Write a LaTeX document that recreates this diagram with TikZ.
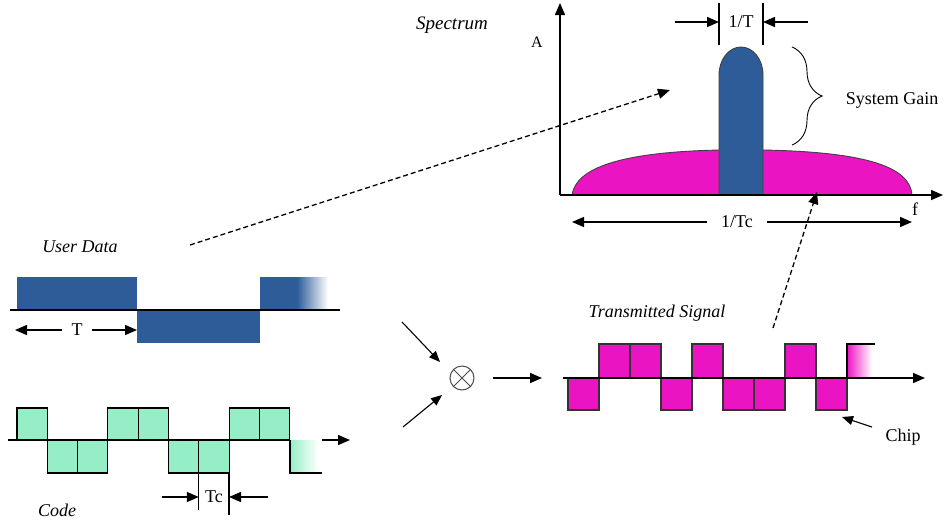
\documentclass[tikz,border=0pt]{standalone}
\usepackage{fontspec}
\setmainfont{Liberation Serif}
\usetikzlibrary{arrows.meta,decorations.pathreplacing}
\definecolor{dblue}{RGB}{45,92,152}
\definecolor{mint}{RGB}{150,238,198}
\definecolor{pinkc}{RGB}{235,20,195}
\begin{document}
\begin{tikzpicture}[x=1pt,y=-1pt,
  lbl/.style={font=\fontsize{18}{20}\selectfont, inner sep=1pt},
  itl/.style={font=\fontsize{18}{20}\selectfont\itshape, inner sep=1pt},
  arr/.style={-{Triangle[length=12pt,width=10pt]}, line width=1.5pt},
  thinarr/.style={-{Triangle[length=11pt,width=9pt]}, line width=1.1pt},
  darr/.style={-{Triangle[length=12pt,width=10pt]}, line width=1.3pt, dash pattern=on 5pt off 3pt},
  axisline/.style={line width=1.5pt},
  codechip/.style={fill=mint, draw=black, line width=1.1pt},
  txchip/.style={fill=pinkc, draw=black!80, line width=1.1pt},
  dimline/.style={line width=1.1pt}]
\useasboundingbox (0,0) rectangle (945,520);
\fill[white] (0,0) rectangle (945,520);

% ---------- Spectrum ----------
\filldraw[fill=pinkc, draw=black!75, line width=0.9pt] (572,195) .. controls (576,168) and (620,152) .. (720,150) -- (763,150) .. controls (870,152) and (910,168) .. (912,195) -- cycle;
\filldraw[fill=dblue, draw=black!75, line width=0.9pt] (719,195) -- (719,75) arc[start angle=180,end angle=360,x radius=22,y radius=28] -- (763,195) -- cycle;
\coordinate (O) at (560,195);
\coordinate (ytop) at (560,3);
\coordinate (xend) at (943,195);
\draw[arr] (O) -- (ytop);
\draw[arr] (O) -- (xend);
\node[lbl, font=\fontsize{16}{18}\selectfont] (A) at (537,42) {A};
\node[lbl, font=\fontsize{18}{20}\selectfont] (f) at (915,209) {f};
\node[itl, font=\fontsize{19}{21}\selectfont\itshape] (spec) at (452,25) {Spectrum};

% 1/T
\draw[dimline] (719,3) -- (719,45);
\draw[dimline] (763,3) -- (763,45);
\node[lbl] (oneT) at (741,22) {1/T};
\coordinate (tl0) at (675,22); \coordinate (tl1) at (719,22);
\coordinate (tr0) at (808,22); \coordinate (tr1) at (763,22);
\draw[arr] (tl0) -- (tl1);
\draw[arr] (tr0) -- (tr1);

% brace
\draw[decorate, decoration={brace, amplitude=30pt, aspect=0.5}, line width=0.9pt] (792,47) -- (792,145);
\node[lbl] (gain) at (892,100) {System Gain};

% 1/Tc
\node[lbl] (oneTc) at (737,222) {1/Tc};
\coordinate (ctl0) at (707,222); \coordinate (ctl1) at (572,222);
\coordinate (ctr0) at (767,222); \coordinate (ctr1) at (912,222);
\draw[arr] (ctl0) -- (ctl1);
\draw[arr] (ctr0) -- (ctr1);

% ---------- User data ----------
\node[itl] (ud) at (80,247) {User Data};
\fill[dblue] (17,277) rectangle (137,310);
\fill[dblue] (137,310) rectangle (260,343);
\fill[dblue] (260,277) rectangle (298,310);
\shade[left color=dblue, right color=white] (297,277) rectangle (328,310);
\draw[axisline] (10,310) -- (340,310);
\node[lbl] (T) at (77,330) {T};
\coordinate (ta0) at (62,330); \coordinate (ta1) at (15,330);
\coordinate (tb0) at (92,330); \coordinate (tb1) at (137,330);
\draw[arr] (ta0) -- (ta1);
\draw[arr] (tb0) -- (tb1);

% dashed arrows
\coordinate (udEnd) at (190,245);
\coordinate (sp1) at (670,90);
\draw[darr] (udEnd) -- (sp1);
\coordinate (txEnd) at (773,328);
\coordinate (sp2) at (817,192);
\draw[darr] (txEnd) -- (sp2);

% ---------- Code ----------
\shade[left color=mint, right color=white] (290,440) rectangle (318,473);
\foreach \i/\y in {0/408,1/473,2/473,3/408,4/408,5/473,6/473,7/408,8/408}
  \filldraw[codechip] ({17+30.3*\i},440) rectangle ({17+30.3*(\i+1)},\y);
\draw[line width=1.1pt] (290,440) -- (290,473) -- (322,473);
\draw[line width=1.1pt] (8,440) -- (17,440);
\coordinate (c0) at (322,440); \coordinate (c1) at (350,440);
\draw[arr] (c0) -- (c1);
\node[itl] (code) at (57,510) {Code};
% Tc
\draw[dimline] (198.8,473) -- (198.8,510);
\draw[dimline] (229,473) -- (229,515);
\node[lbl] (Tc) at (214,497) {Tc};
\coordinate (tc0) at (162,497); \coordinate (tc1) at (198.8,497);
\coordinate (tc2) at (268,497); \coordinate (tc3) at (229,497);
\draw[arr] (tc0) -- (tc1);
\draw[arr] (tc2) -- (tc3);

% ---------- Multiplier ----------
\node[circle, draw=black!70, minimum size=24pt, inner sep=0pt, line width=1pt] (mult) at (462,378) {};
\draw[black!70, line width=1pt] (mult.north west) -- (mult.south east);
\draw[black!70, line width=1pt] (mult.north east) -- (mult.south west);
\coordinate (m1) at (402,322); \coordinate (m1e) at (440,362);
\coordinate (m2) at (403,427); \coordinate (m2e) at (442,395);
\coordinate (m3) at (493,378); \coordinate (m3e) at (542,378);
\draw[thinarr] (m1) -- (m1e);
\draw[thinarr] (m2) -- (m2e);
\draw[arr] (m3) -- (m3e);

% ---------- Transmitted ----------
\node[itl] (tx) at (657,313) {Transmitted Signal};
\shade[left color=pinkc, right color=white] (847,378) rectangle (872,344);
\foreach \i/\y in {0/410,1/344,2/344,3/410,4/344,5/410,6/410,7/344,8/410}
  \filldraw[txchip] ({568+31*\i},378) rectangle ({568+31*(\i+1)},\y);
\draw[line width=1.1pt] (847,378) -- (847,344) -- (875,344);
\coordinate (tx0) at (563,378); \coordinate (tx1) at (925,378);
\draw[arr] (tx0) -- (tx1);
\coordinate (ch0) at (872,427); \coordinate (ch1) at (842,417);
\draw[thinarr] (ch0) -- (ch1);
\node[lbl] (chip) at (903,437) {Chip};
\end{tikzpicture}
\end{document}
